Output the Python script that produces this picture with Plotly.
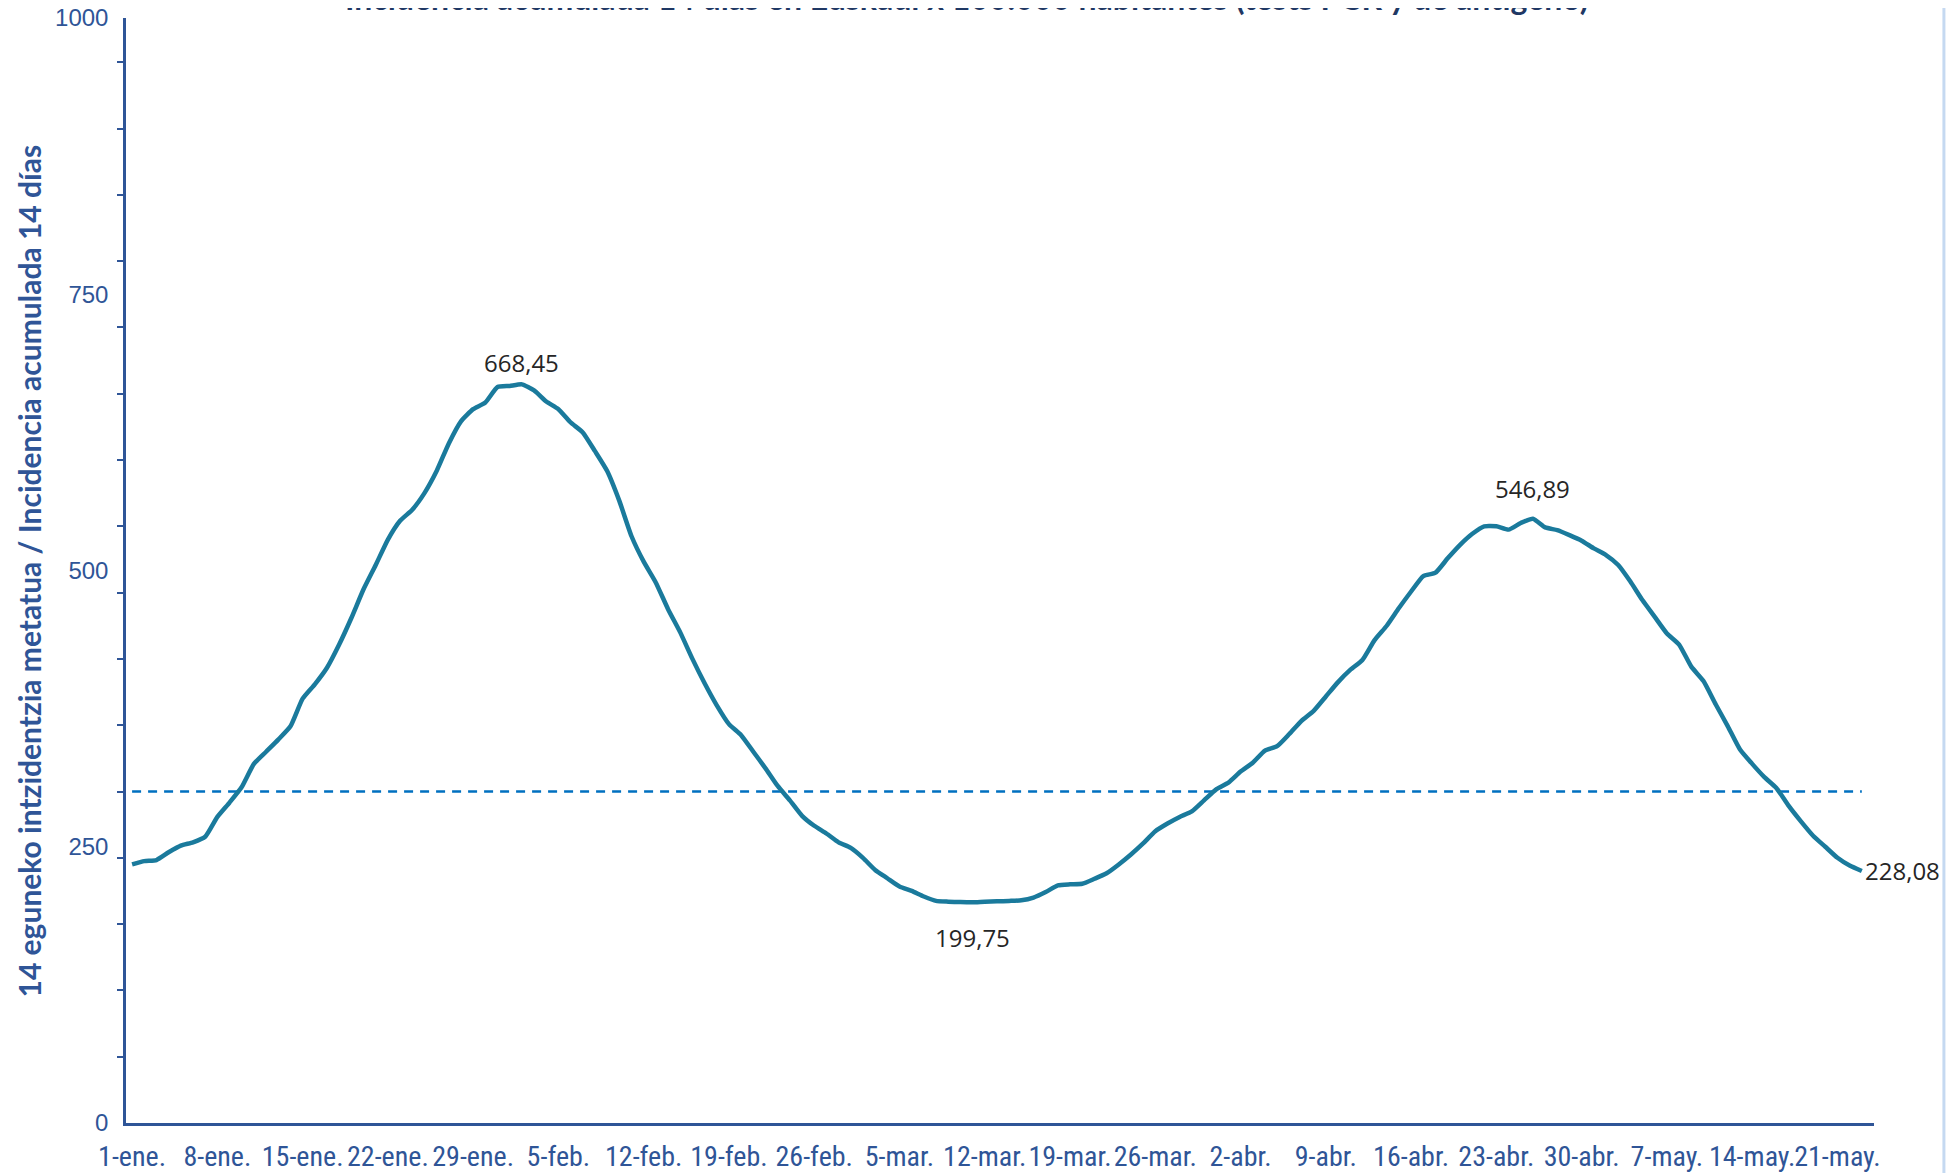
import pandas as pd
import plotly.graph_objects as go

# ---------------- data ----------------
start_date = "2021-01-01"

incidence = [
    234, 237, 238, 245, 251, 254, 259, 277, 290, 304,
    325, 336, 347, 359, 384, 397, 412, 433, 457, 483,
    505, 528, 545, 555, 570, 590, 615, 635, 646, 652,
    666, 667, 668.45, 663, 653, 646, 634, 625, 608, 590,
    563, 531, 508, 489, 465, 444, 420, 398, 378, 361,
    351, 336, 321, 305, 292, 278, 269, 262, 254, 249,
    240, 229, 221.5, 214, 210, 205, 201, 200.3, 199.9, 199.75,
    200.3, 200.6, 201, 201.5, 204, 209, 215, 216, 216.5, 221,
    226, 234, 243, 253, 264, 271, 277, 282, 292, 302,
    308, 318, 326, 337, 341, 352, 364, 373, 386, 399,
    410, 419, 437, 450, 466, 481, 495, 498, 511, 523,
    533, 540, 540, 537, 543, 546.89, 539, 536.5, 532, 527,
    520, 514, 505, 490, 473, 458, 443, 433, 413, 400,
    379, 359, 338, 325, 313, 303, 287, 273, 260, 250,
    240, 233, 228.08,
]

threshold = 300

tick_labels = [
    "1-ene.", "8-ene.", "15-ene.", "22-ene.", "29-ene.", "5-feb.", "12-feb.",
    "19-feb.", "26-feb.", "5-mar.", "12-mar.", "19-mar.", "26-mar.", "2-abr.",
    "9-abr.", "16-abr.", "23-abr.", "30-abr.", "7-may.", "14-may.", "21-may.",
]

y_tick_values = [0, 250, 500, 750, 1000]

label_days = [32, 69, 115, 142]
label_shift = [(0, 22), (0, -35), (0, 30), (1, 0)]

title_text = "Incidencia acumulada 14 días en Euskadi x 100.000 habitantes (tests PCR y de antígeno)"
y_title = "14 eguneko intzidentzia metatua / Incidencia acumulada 14 días"

# ---------------- figure ----------------
dates = pd.date_range(start_date, periods=len(incidence), freq="D")
tick_dates = list(dates[::7])

AXIS_BLUE = "#2F5597"
NARROW = "Liberation Sans Narrow, Arial Narrow, Roboto Condensed, Liberation Sans, sans-serif"
HUMANIST = "Lato, Open Sans, sans-serif"

fig = go.Figure()
fig.add_trace(go.Scatter(
    x=dates, y=[threshold] * len(dates), mode="lines",
    line=dict(color="#0070C0", width=2.5, dash="9px,7px"),
    hoverinfo="skip",
))
fig.add_trace(go.Scatter(
    x=dates, y=incidence, mode="lines",
    line=dict(color="#1A7A9C", width=4.5, shape="spline", smoothing=0.5),
))

for d, (dx, dy) in zip(label_days, label_shift):
    v = incidence[d]
    txt = f"{v:.2f}".replace(".", ",")
    fig.add_annotation(
        x=dates[d], y=v, text=txt, showarrow=False,
        xanchor="left" if dx else "center", yanchor="middle",
        xshift=dx, yshift=dy,
        font=dict(family="Open Sans", size=24, color="#262626"),
    )

# y-axis title
fig.add_annotation(
    xref="paper", yref="paper", x=-0.0555, y=0.5, text=f"<b>{y_title}</b>",
    showarrow=False, textangle=-90, xanchor="center", yanchor="middle",
    font=dict(family=HUMANIST, size=30, color=AXIS_BLUE),
)
# chart title (cut at the top edge)
fig.add_annotation(
    xref="paper", yref="paper", x=0.4811, y=1.019, text=f"<b>{title_text}</b>",
    showarrow=False, xanchor="center", yanchor="middle",
    font=dict(family=HUMANIST, size=32, color="#1F3864"),
)

# light-blue chart border at the right
fig.add_shape(type="line", xref="paper", yref="paper", x0=1.040, x1=1.040,
              y0=-0.2, y1=1.2, line=dict(color="#C5D9F1", width=3))

# the page body adds an 8px offset; size/margins compensate for it
fig.update_layout(
    width=1951, height=1165,
    margin=dict(l=118, r=85, t=10, b=50),
    paper_bgcolor="white", plot_bgcolor="white",
    showlegend=False,
    xaxis=dict(
        range=[dates[0] - pd.Timedelta(hours=12), dates[-1] + pd.Timedelta(hours=24)],
        tickmode="array", tickvals=tick_dates, ticktext=tick_labels,
        showline=True, linecolor=AXIS_BLUE, linewidth=2.5,
        ticks="", showgrid=False, zeroline=False, automargin=False,
        tickangle=0, ticklabeloverflow="allow",
        tickfont=dict(family=NARROW, size=28, color=AXIS_BLUE),
        ticklabelstandoff=7,
    ),
    yaxis=dict(
        range=[0, 1000], tickmode="linear", tick0=0, dtick=250,
        showline=True, linecolor=AXIS_BLUE, linewidth=2.5,
        ticks="", showgrid=False, zeroline=False, automargin=False,
        ticklabeloverflow="allow",
        minor=dict(tickmode="linear", tick0=0, dtick=60, ticks="outside",
                   ticklen=6, tickwidth=2, tickcolor=AXIS_BLUE, showgrid=False),
        tickfont=dict(family="Liberation Sans", size=24, color=AXIS_BLUE),
        ticklabelstandoff=10,
    ),
)

fig.write_html("out.html")
